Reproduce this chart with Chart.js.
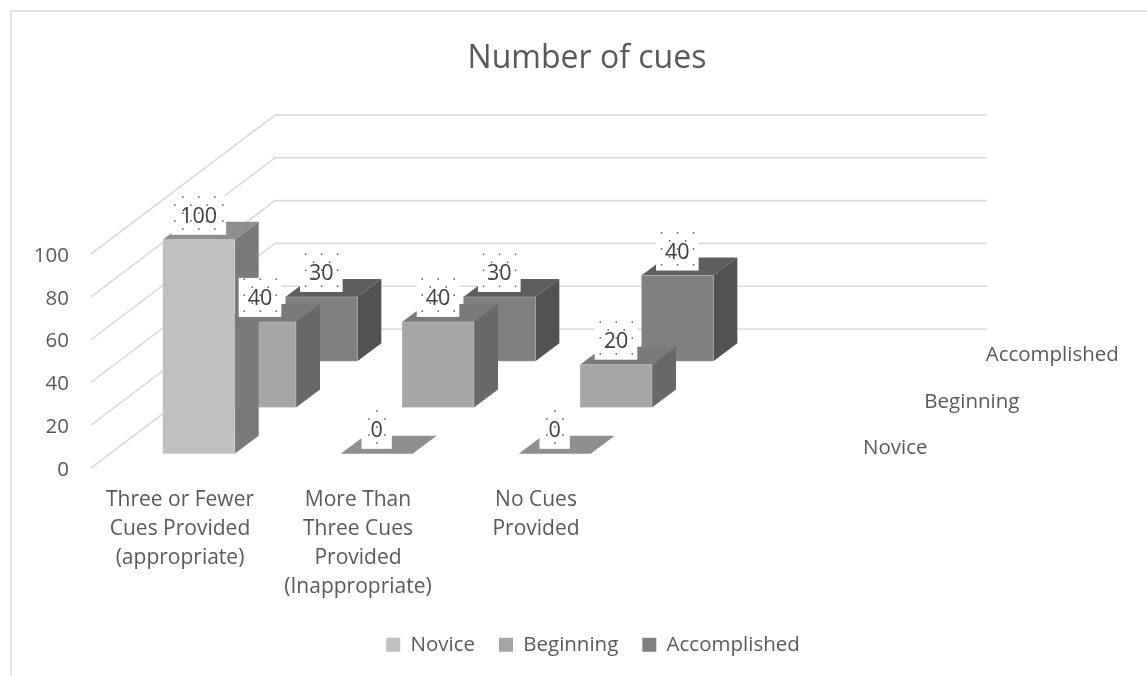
<!DOCTYPE html>
<html>
<head>
<meta charset="utf-8">
<title>Number of cues</title>
<script src="https://cdn.jsdelivr.net/npm/chart.js@4"></script>
<style>
  html, body { margin: 0; padding: 0; background: #fff; }
  canvas { display: block; }
</style>
</head>
<body>
<canvas id="cues" width="1147" height="676"></canvas>
<script>
const categories = [
    ['Three or Fewer', 'Cues Provided', '(appropriate)'],
    ['More Than', 'Three Cues', 'Provided', '(Inappropriate)'],
    ['No Cues', 'Provided'],
    ''
];
const seriesNames = ['Novice', 'Beginning', 'Accomplished'];
const novice = [100, 0, 0];
const beginning = [40, 40, 20];
const accomplished = [30, 30, 40];
const yTicks = [0, 20, 40, 60, 80, 100];

const frontColors = ['#bfbfbf', '#a5a5a5', '#7f7f7f'];
const sideColors = ['#7a7a7a', '#686868', '#525252'];
const topColors = ['#8f8f8f', '#7a7a7a', '#5e5e5e'];

const textColor = '#595959';
const fontName = '"Open Sans", sans-serif';

// depth of the whole floor, and of one box on it
const floorX = 184, floorY = 139;
const boxX = 24, boxY = 18;

function seriesOffset(i) {
    const n = seriesNames.length;
    return {
        x: (i + 0.5) * floorX / n - boxX / 2,
        y: (i + 0.5) * floorY / n - boxY / 2
    };
}

// bar controller that draws each bar as a box standing on the 3d floor
class Bar3D extends Chart.BarController {
    draw() {
        const ctx = this.chart.ctx;
        const i = this.index;
        const off = seriesOffset(i);
        this.getMeta().data.forEach(bar => {
            const l = bar.x - bar.width / 2 + off.x;
            const r = bar.x + bar.width / 2 + off.x;
            const t = bar.y - off.y;
            const b = bar.base - off.y;
            const poly = (pts, color) => {
                ctx.beginPath();
                pts.forEach((p, k) => k ? ctx.lineTo(p[0], p[1]) : ctx.moveTo(p[0], p[1]));
                ctx.closePath();
                ctx.fillStyle = color;
                ctx.fill();
            };
            ctx.save();
            poly([[l, t], [r, t], [r + boxX, t - boxY], [l + boxX, t - boxY]], topColors[i]);
            if (b - t > 0.5) {
                poly([[r, t], [r + boxX, t - boxY], [r + boxX, b - boxY], [r, b]], sideColors[i]);
                poly([[l, t], [r, t], [r, b], [l, b]], frontColors[i]);
                ctx.strokeStyle = 'rgba(255,255,255,0.25)';
                ctx.lineWidth = 1;
                ctx.strokeRect(l, t, r - l, b - t);
            }
            ctx.restore();
        });
    }
}
Bar3D.id = 'bar3d';
Bar3D.defaults = Chart.BarController.defaults;
Bar3D.overrides = Chart.BarController.overrides;
Chart.register(Bar3D);

// side wall and back wall gridlines
const wallGrid = {
    id: 'wallGrid',
    afterLayout(chart) {
        // legend sits a little right of the title in the reference
        chart.legend.left += 12;
    },
    beforeDatasetsDraw(chart) {
        const ctx = chart.ctx;
        const x = chart.scales.x, y = chart.scales.y;
        ctx.save();
        ctx.strokeStyle = '#d9d9d9';
        ctx.lineWidth = 1.6;
        yTicks.forEach(v => {
            const py = y.getPixelForValue(v);
            ctx.beginPath();
            ctx.moveTo(x.left, py);
            ctx.lineTo(x.left + floorX, py - floorY);
            ctx.lineTo(x.right + floorX, py - floorY);
            ctx.stroke();
        });
        ctx.restore();
    }
};

// white value boxes with the dotted pattern, plus series names along the depth axis
const valueLabels = {
    id: 'valueLabels',
    afterDatasetsDraw(chart) {
        const ctx = chart.ctx;
        ctx.save();
        ctx.textBaseline = 'middle';
        chart.data.datasets.forEach((ds, i) => {
            const off = seriesOffset(i);
            chart.getDatasetMeta(i).data.forEach((bar, j) => {
                const text = String(ds.data[j]);
                const cx = bar.x + off.x;
                const cy = bar.y - off.y - 23;
                ctx.font = '21.5px ' + fontName;
                const half = ctx.measureText(text).width / 2 + 9;
                ctx.fillStyle = '#fff';
                ctx.fillRect(cx - half, cy - 21, half * 2, 39);
                ctx.fillStyle = '#595959';
                for (let row = 0; row < 5; row++) {
                    const dy = -20 + row * 8;
                    for (let dx = row % 2 ? -24 : -16; dx <= 24; dx += 16) {
                        if (Math.abs(dx) < half - 1) ctx.fillRect(cx + dx - 0.5, cy + dy - 0.5, 1.5, 1.5);
                    }
                }
                ctx.fillStyle = '#404040';
                ctx.textAlign = 'center';
                ctx.fillText(text, cx, cy);
            });
        });
        const x = chart.scales.x, y = chart.scales.y;
        ctx.font = '20.5px ' + fontName;
        ctx.fillStyle = textColor;
        ctx.textAlign = 'left';
        seriesNames.forEach((name, i) => {
            const n = seriesNames.length;
            ctx.fillText(name, x.right + 60 + i * floorX / n, y.bottom - 20 - i * floorY / n);
        });
        ctx.restore();
    }
};

// outer chart frame: top and left edges only
const frame = {
    id: 'frame',
    beforeDraw(chart) {
        const ctx = chart.ctx;
        ctx.save();
        ctx.fillStyle = '#fff';
        ctx.fillRect(0, 0, chart.width, chart.height);
        ctx.strokeStyle = '#d9d9d9';
        ctx.lineWidth = 1.5;
        ctx.beginPath();
        ctx.moveTo(11, chart.height);
        ctx.lineTo(11, 11);
        ctx.lineTo(chart.width, 11);
        ctx.stroke();
        ctx.restore();
    }
};

new Chart(document.getElementById('cues'), {
    type: 'bar3d',
    data: {
        labels: categories,
        datasets: [
            { label: seriesNames[0], data: novice, backgroundColor: frontColors[0], clip: false },
            { label: seriesNames[1], data: beginning, backgroundColor: frontColors[1], clip: false },
            { label: seriesNames[2], data: accomplished, backgroundColor: frontColors[2], clip: false }
        ]
    },
    plugins: [frame, wallGrid, valueLabels],
    options: {
        responsive: false,
        animation: false,
        grouped: false,
        barThickness: 72,
        borderWidth: 0,
        layout: { padding: { left: 27, right: 0, top: 0, bottom: 11 } },
        plugins: {
            tooltip: { enabled: false },
            title: {
                display: true,
                text: 'Number of cues',
                color: textColor,
                font: { family: fontName, size: 32, weight: 'normal' },
                padding: { top: 40, bottom: 175.6 }
            },
            legend: {
                position: 'bottom',
                labels: {
                    color: textColor,
                    font: { family: fontName, size: 20.5 },
                    boxWidth: 14,
                    boxHeight: 14,
                    padding: 24
                }
            }
        },
        scales: {
            x: {
                type: 'category',
                grid: { display: false },
                border: { display: false },
                afterFit(s) { s.height = 142.5; },
                ticks: {
                    color: textColor,
                    font: { family: fontName, size: 21, lineHeight: 1.38 },
                    padding: 10,
                    maxRotation: 0,
                    autoSkip: false
                }
            },
            y: {
                min: 0,
                max: 100,
                grid: { display: false },
                border: { display: false },
                afterFit(s) { s.width = 64; },
                ticks: {
                    color: textColor,
                    font: { family: fontName, size: 20.5 },
                    stepSize: 20,
                    padding: 14,
                    labelOffset: 2
                }
            },
            // keeps the room right of the front plane for the depth of the floor
            depth: {
                type: 'linear',
                position: 'right',
                grid: { display: false },
                border: { display: false },
                ticks: { display: false },
                afterFit(s) { s.width = 344; }
            }
        }
    }
});
</script>
</body>
</html>
